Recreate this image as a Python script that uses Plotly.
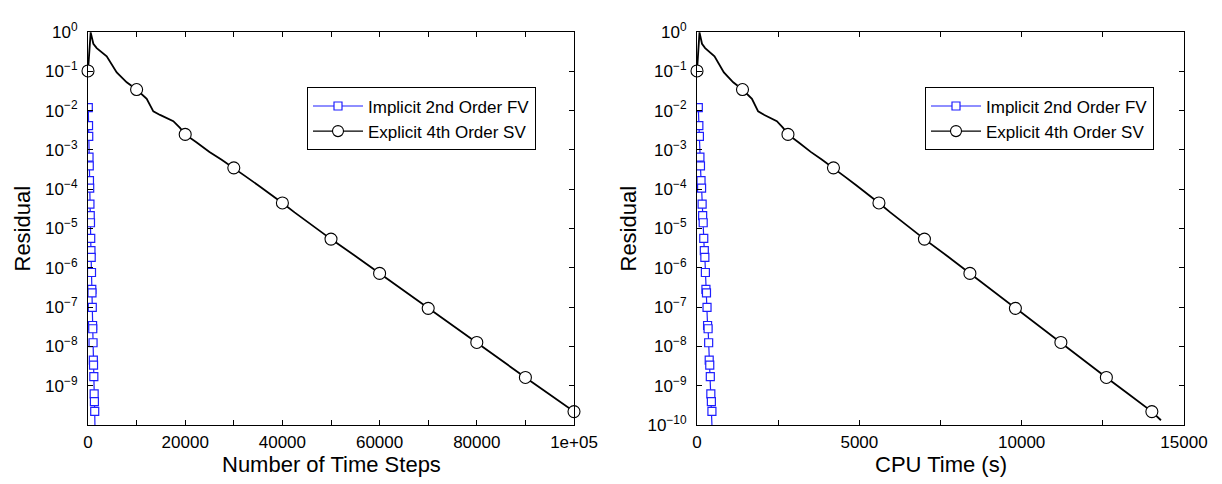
import plotly.graph_objects as go

# ---------------- data ----------------
# Explicit 4th Order SV: residual history
sv_steps = [0, 550, 1100, 1790, 3850, 5910, 7960, 10000, 12080, 13440, 14820, 17560,
            18930, 20000, 22370, 25000, 27500, 30000, 32500, 35000, 37500, 40000,
            42500, 45000, 47500, 50000, 55000, 60000, 65000, 70000, 75000, 80000,
            85000, 90000, 95000, 100000, 102000]
sv_cpu = [0, 77, 154, 251, 539, 828, 1115, 1401, 1692, 1883, 2076, 2460,
          2652, 2802, 3134, 3503, 3853, 4203, 4553, 4904, 5254, 5604,
          5954, 6305, 6655, 7005, 7706, 8406, 9107, 9807, 10508, 11208,
          11909, 12609, 13310, 14010, 14290]
sv_resid = [0.102, 0.977, 0.501, 0.389, 0.240, 0.0933, 0.0525, 0.0344, 0.0200, 0.00955,
            0.00776, 0.00537, 0.00363, 0.00248, 0.00155, 8.9e-4, 5.6e-4, 3.49e-4,
            2.09e-4, 1.26e-4, 7.6e-5, 4.47e-5, 2.57e-5, 1.51e-5, 8.9e-6, 5.37e-6,
            2.0e-6, 7.2e-7, 2.63e-7, 9.3e-8, 3.47e-8, 1.26e-8, 4.47e-9, 1.62e-9,
            6.0e-10, 2.19e-10, 1.32e-10]
# steps carrying a circle marker
sv_mark_steps = [0, 10000, 20000, 30000, 40000, 50000, 60000, 70000, 80000, 90000, 100000]

# Implicit 2nd Order FV: residual history
fv_steps = [60, 110, 150, 210, 260, 300, 350, 400, 460, 510, 560, 610, 660,
            720, 780, 820, 880, 940, 980, 1040, 1100, 1140, 1200, 1270, 1320, 1380, 1480]
fv_cpu = [40, 57, 74, 90, 107, 124, 141, 158, 174, 191, 208, 225, 242,
          258, 275, 292, 309, 326, 342, 359, 376, 393, 410, 426, 443, 460, 480]
fv_resid = [1.19e-2, 4.15e-3, 2.21e-3, 6.55e-4, 3.92e-4, 1.66e-4, 1.07e-4, 4.15e-5,
            2.12e-5, 1.40e-5, 5.61e-6, 2.72e-6, 1.85e-6, 7.60e-7, 2.81e-7, 2.29e-7,
            9.89e-8, 3.40e-8, 2.81e-8, 1.24e-8, 4.45e-9, 3.34e-9, 1.71e-9, 6.22e-10,
            3.94e-10, 2.22e-10, 4.0e-11]

fv_name = "Implicit 2nd Order FV"
sv_name = "Explicit 4th Order SV"

left_xticks = [0, 10000, 20000, 30000, 40000, 50000, 60000, 70000, 80000, 90000, 100000]
left_xtext = ["0", "", "20000", "", "40000", "", "60000", "", "80000", "", "1e+05"]
right_xticks = [0, 2500, 5000, 7500, 10000, 12500, 15000]
right_xtext = ["0", "", "5000", "", "10000", "", "15000"]
left_yexp = [0, -1, -2, -3, -4, -5, -6, -7, -8, -9]
right_yexp = [0, -1, -2, -3, -4, -5, -6, -7, -8, -9, -10]

# ---------------- figure ----------------
BLUE = "#1f1fff"
FONT = "Liberation Sans, Arial, Helvetica, sans-serif"

fig = go.Figure()

sv_mark_idx = [sv_steps.index(s) for s in sv_mark_steps]

for xs_sv, xs_fv, xa, ya, leg in [
    (sv_steps, fv_steps, "x", "y", "legend"),
    (sv_cpu, fv_cpu, "x2", "y2", "legend2"),
]:
    # FV line with square markers
    fig.add_trace(go.Scatter(
        x=xs_fv, y=fv_resid, mode="lines+markers", name=fv_name,
        line=dict(color=BLUE, width=1.2),
        marker=dict(symbol="square", size=8, color="white",
                    line=dict(color=BLUE, width=1.2)),
        xaxis=xa, yaxis=ya, legend=leg, showlegend=True))
    # SV line
    fig.add_trace(go.Scatter(
        x=xs_sv, y=sv_resid, mode="lines", name=sv_name,
        line=dict(color="black", width=1.8),
        xaxis=xa, yaxis=ya, showlegend=False))
    # SV circle markers
    fig.add_trace(go.Scatter(
        x=[xs_sv[i] for i in sv_mark_idx], y=[sv_resid[i] for i in sv_mark_idx],
        mode="markers", name=sv_name,
        marker=dict(symbol="circle", size=12, color="white",
                    line=dict(color="black", width=1.1)),
        xaxis=xa, yaxis=ya, showlegend=False, cliponaxis=False))
    # legend entry for SV
    fig.add_trace(go.Scatter(
        x=[None], y=[None], mode="lines+markers", name=sv_name,
        line=dict(color="black", width=1.2),
        marker=dict(symbol="circle", size=11, color="white",
                    line=dict(color="black", width=1.1)),
        xaxis=xa, yaxis=ya, legend=leg, showlegend=True))

# the page adds an 8px body margin; work in reference-pixel coordinates
OFF = 8
W, H = 1222 - OFF, 484 - OFF
L, T = 88 - OFF, 21 - OFF
R = W - (1184 - OFF)
B = H - (425 - OFF)
PW, PH = W - L - R, H - T - B

def px(xpix):
    return (xpix - OFF - L) / PW

def py(ypix):
    return (H - B - (ypix - OFF)) / PH

axis_common = dict(showline=True, linecolor="black", linewidth=1, mirror="ticks",
                   ticks="inside", ticklen=5, tickcolor="black", tickwidth=1,
                   showgrid=False, zeroline=False,
                   tickfont=dict(family=FONT, size=17, color="black"))

def ytext(exps):
    return ["10<sup>0</sup>" if e == 0 else "10<sup>\u2212%d</sup>" % (-e) for e in exps]

fig.update_layout(
    width=W, height=H,
    margin=dict(l=L, r=R, t=T, b=B, pad=0),
    paper_bgcolor="white", plot_bgcolor="white",
    font=dict(family=FONT, size=17, color="black"),
    xaxis=dict(domain=[0, px(574)], range=[0, 100000], tickmode="array",
               tickvals=left_xticks, ticktext=left_xtext, anchor="y",
               ticklabelstandoff=2, **axis_common),
    yaxis=dict(type="log", range=[-10, 0], tickmode="array",
               tickvals=[10.0 ** e for e in left_yexp], ticktext=ytext(left_yexp),
               anchor="x", ticklabelstandoff=6, **axis_common),
    xaxis2=dict(domain=[px(697), 1], range=[0, 15000], tickmode="array",
                tickvals=right_xticks, ticktext=right_xtext, anchor="y2",
                ticklabelstandoff=2, **axis_common),
    yaxis2=dict(type="log", range=[-10, 0], tickmode="array",
                tickvals=[10.0 ** e for e in right_yexp], ticktext=ytext(right_yexp),
                anchor="x2", ticklabelstandoff=6, **axis_common),
    legend=dict(x=px(307), y=py(78), xanchor="left", yanchor="top",
                bgcolor="white", bordercolor="black", borderwidth=1,
                font=dict(family=FONT, size=17, color="black"),
                itemwidth=50, tracegroupgap=0),
    legend2=dict(x=px(925), y=py(78), xanchor="left", yanchor="top",
                 bgcolor="white", bordercolor="black", borderwidth=1,
                 font=dict(family=FONT, size=17, color="black"),
                 itemwidth=50, tracegroupgap=0),
)

title_font = dict(family=FONT, size=22, color="black")
fig.add_annotation(text="Number of Time Steps", x=px((88 + 574) / 2), y=py(466),
                   xref="paper", yref="paper", showarrow=False, font=title_font,
                   xanchor="center", yanchor="middle")
fig.add_annotation(text="CPU Time (s)", x=px((697 + 1184) / 2), y=py(466),
                   xref="paper", yref="paper", showarrow=False, font=title_font,
                   xanchor="center", yanchor="middle")
fig.add_annotation(text="Residual", x=px(22), y=py(223), textangle=-90,
                   xref="paper", yref="paper", showarrow=False, font=title_font,
                   xanchor="center", yanchor="middle")
fig.add_annotation(text="Residual", x=px(628), y=py(223), textangle=-90,
                   xref="paper", yref="paper", showarrow=False, font=title_font,
                   xanchor="center", yanchor="middle")

fig.write_html("out.html")
